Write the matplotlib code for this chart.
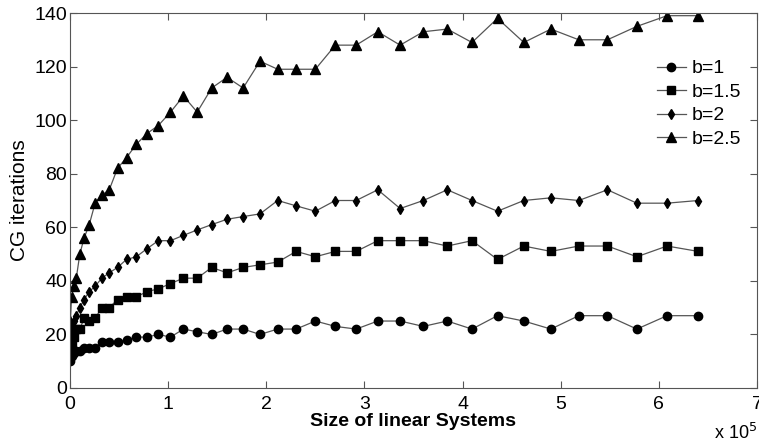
import numpy as np
import matplotlib.pyplot as plt

plt.rcParams['font.family'] = ['Liberation Sans', 'DejaVu Sans']

# problem sizes (n x n grids, n = 20..800)
sizes = [400, 1600, 3600, 6400, 10000, 14400, 19600, 25600, 32400, 40000,
         48400, 57600, 67600, 78400, 90000, 102400, 115600, 129600, 144400, 160000,
         176400, 193600, 211600, 230400, 250000, 270400, 291600, 313600, 336400, 360000,
         384400, 409600, 435600, 462400, 490000, 518400, 547600, 577600, 608400, 640000]

it_b1 = [10, 12, 13, 14, 14, 15, 15, 15, 17, 17, 17, 18, 19, 19, 20, 19, 22, 21, 20, 22,
         22, 20, 22, 22, 25, 23, 22, 25, 25, 23, 25, 22, 27, 25, 22, 27, 27, 22, 27, 27]
it_b15 = [13, 16, 19, 22, 22, 26, 25, 26, 30, 30, 33, 34, 34, 36, 37, 39, 41, 41, 45, 43,
          45, 46, 47, 51, 49, 51, 51, 55, 55, 55, 53, 55, 48, 53, 51, 53, 53, 49, 53, 51]
it_b2 = [20, 23, 25, 27, 30, 33, 36, 38, 41, 43, 45, 48, 49, 52, 55, 55, 57, 59, 61, 63,
         64, 65, 70, 68, 66, 70, 70, 74, 67, 70, 74, 70, 66, 70, 71, 70, 74, 69, 69, 70]
it_b25 = [25, 34, 38, 41, 50, 56, 61, 69, 72, 74, 82, 86, 91, 95, 98, 103, 109, 103, 112, 116,
          112, 122, 119, 119, 119, 128, 128, 133, 128, 133, 134, 129, 138, 129, 134, 130, 130, 135, 139, 139]

labels = ['b=1', 'b=1.5', 'b=2', 'b=2.5']
markers = ['o', 's', 'd', '^']
msizes = [6, 6, 5.5, 7]

x = np.array(sizes) / 1e5

fig = plt.figure(figsize=(7.59, 4.45), dpi=100)
ax = fig.add_axes([70/759, 1-388/445, 687/759, 375/445])

for y, lab, m, ms in zip([it_b1, it_b15, it_b2, it_b25], labels, markers, msizes):
    ax.plot(x, y, color='#555555', lw=0.9, marker=m, ms=ms,
            mfc='black', mec='black', label=lab)

ax.set_xlim(0, 7)
ax.set_ylim(0, 140)
ax.set_xticks(range(8))
ax.set_yticks(range(0, 141, 20))
ax.tick_params(direction='in', top=True, right=True, labelsize=14, length=5,
               color='#555555')
ax.tick_params(axis='y', pad=2)
ax.tick_params(axis='x', pad=6)
for s in ax.spines.values():
    s.set_color('#555555')
    s.set_linewidth(0.8)

ax.set_xlabel('Size of linear Systems', fontsize=14, fontweight='bold', labelpad=0)
ax.set_ylabel('CG iterations', fontsize=15, labelpad=4)
fig.text(757/759, 1-433/445, r'x 10$^5$', fontsize=13, va='center', ha='right')

ax.legend(loc='upper left', bbox_to_anchor=(0.854, 0.875), frameon=False,
          fontsize=14, handlelength=1.5, handletextpad=0.3, labelspacing=0.3,
          borderaxespad=0, borderpad=0)

fig.savefig('out.png', dpi=100)
